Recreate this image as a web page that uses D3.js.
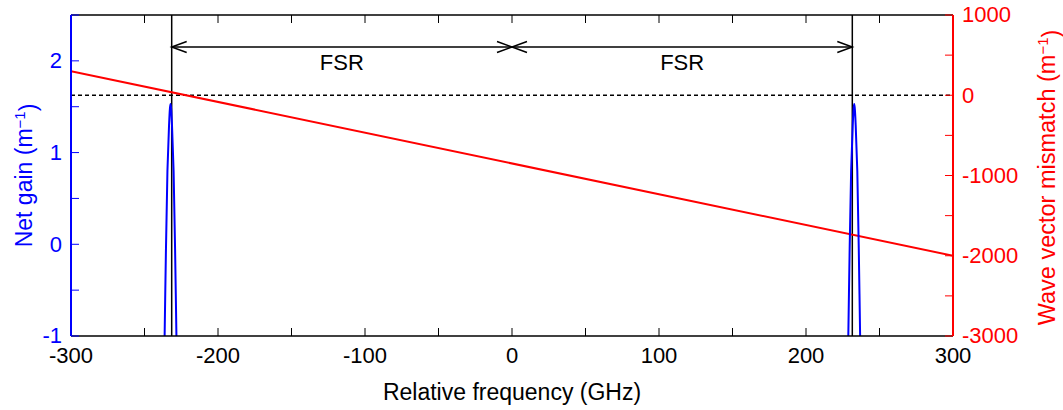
<!DOCTYPE html>
<html>
<head>
<meta charset="UTF-8">
<script src="https://d3js.org/d3.v7.min.js"></script>
<style>
  body { margin: 0; background: #fff; }
  text { font-family: "Liberation Sans", Arial, sans-serif; }
</style>
</head>
<body>
<script>
// Chart data
var freqTicks = [-300, -250, -200, -150, -100, -50, 0, 50, 100, 150, 200, 250, 300];
var freqLabels = [-300, -200, -100, 0, 100, 200, 300];
var gainTicks = [-1, -0.5, 0, 0.5, 1, 1.5, 2, 2.5];
var gainLabels = [-1, 0, 1, 2];
var mismatchTicks = [-3000, -2500, -2000, -1500, -1000, -500, 0, 500, 1000];
var mismatchLabels = [-3000, -2000, -1000, 0, 1000];

// net gain peaks (frequency GHz, gain m^-1)
var peakLeftFreq = [-236.5, -235.4, -234.4, -233.3, -232.7, -232.3, -231.9, -231.3, -230.2, -229.2, -228.1];
var peakLeftGain = [-1.2, -0.05, 0.8, 1.3, 1.48, 1.53, 1.48, 1.3, 0.8, -0.05, -1.2];
var peakRightFreq = [228.6, 229.7, 230.7, 231.8, 232.4, 232.8, 233.2, 233.8, 234.9, 235.9, 237.0];
var peakRightGain = [-1.2, -0.05, 0.8, 1.3, 1.48, 1.53, 1.48, 1.3, 0.8, -0.05, -1.2];

// wave vector mismatch (linear)
var mismatchFreq = [-300, 300];
var mismatchVal = [300, -2000];

// FSR markers
var fsrLines = [-231.5, 231.5];
var fsrArrows = [[-231.5, 0], [0, 231.5]];

var margin = {top: 15, right: 110, bottom: 74, left: 71},
    width = 1063 - margin.left - margin.right,
    height = 410 - margin.top - margin.bottom;

var x = d3.scaleLinear().domain([-300, 300]).range([0, width]);
var yL = d3.scaleLinear().domain([-1, 2.5]).range([height, 0]);
var yR = d3.scaleLinear().domain([-3000, 1000]).range([height, 0]);

var svg = d3.select("body").append("svg")
    .attr("width", 1063).attr("height", 410)
  .append("g")
    .attr("transform", "translate(" + margin.left + "," + margin.top + ")");

svg.append("clipPath").attr("id", "clip")
  .append("rect").attr("width", width).attr("height", height);

var plot = svg.append("g").attr("clip-path", "url(#clip)");

// dashed zero line of mismatch
plot.append("line")
    .attr("x1", 0).attr("x2", width)
    .attr("y1", yR(0)).attr("y2", yR(0))
    .attr("stroke", "#000").attr("stroke-width", 1.4)
    .attr("stroke-dasharray", "4,3");

// vertical FSR lines
fsrLines.forEach(function(f) {
  plot.append("line")
      .attr("x1", x(f)).attr("x2", x(f))
      .attr("y1", 0).attr("y2", height)
      .attr("stroke", "#000").attr("stroke-width", 1.5);
});

// red mismatch line
var redLine = d3.line()
    .x(function(d, i) { return x(mismatchFreq[i]); })
    .y(function(d) { return yR(d); });
plot.append("path")
    .attr("d", redLine(mismatchVal))
    .attr("fill", "none").attr("stroke", "#ff0000").attr("stroke-width", 2);

// blue gain peaks
function drawPeak(fs, gs) {
  var line = d3.line()
      .x(function(d, i) { return x(fs[i]); })
      .y(function(d) { return yL(d); })
      .curve(d3.curveCatmullRom);
  plot.append("path")
      .attr("d", line(gs))
      .attr("fill", "none").attr("stroke", "#0000ff").attr("stroke-width", 2);
}
drawPeak(peakLeftFreq, peakLeftGain);
drawPeak(peakRightFreq, peakRightGain);

// FSR arrows
var arrowY = 32, headL = 15, headW = 5.5;
fsrArrows.forEach(function(a) {
  var x1 = x(a[0]), x2 = x(a[1]);
  svg.append("line")
      .attr("x1", x1).attr("x2", x2).attr("y1", arrowY).attr("y2", arrowY)
      .attr("stroke", "#000").attr("stroke-width", 1.5);
  svg.append("path")
      .attr("d", "M" + (x1 + headL) + "," + (arrowY - headW) + "L" + x1 + "," + arrowY + "L" + (x1 + headL) + "," + (arrowY + headW))
      .attr("fill", "none").attr("stroke", "#000").attr("stroke-width", 1.5);
  svg.append("path")
      .attr("d", "M" + (x2 - headL) + "," + (arrowY - headW) + "L" + x2 + "," + arrowY + "L" + (x2 - headL) + "," + (arrowY + headW))
      .attr("fill", "none").attr("stroke", "#000").attr("stroke-width", 1.5);
  svg.append("text")
      .attr("x", (x1 + x2) / 2).attr("y", 55)
      .attr("text-anchor", "middle")
      .style("font-size", "22px")
      .text("FSR");
});

// spines
svg.append("line").attr("x1", 0).attr("x2", width).attr("y1", 0).attr("y2", 0)
    .attr("stroke", "#000").attr("stroke-width", 1.5);
svg.append("line").attr("x1", 0).attr("x2", width).attr("y1", height).attr("y2", height)
    .attr("stroke", "#000").attr("stroke-width", 1.5);

// tick marks (inward)
var tk = 8;
freqTicks.forEach(function(f) {
  svg.append("line").attr("x1", x(f)).attr("x2", x(f)).attr("y1", height).attr("y2", height - tk)
      .attr("stroke", "#000").attr("stroke-width", 1);
  svg.append("line").attr("x1", x(f)).attr("x2", x(f)).attr("y1", 0).attr("y2", tk)
      .attr("stroke", "#000").attr("stroke-width", 1);
});
gainTicks.forEach(function(g) {
  svg.append("line").attr("x1", 0).attr("x2", tk).attr("y1", yL(g)).attr("y2", yL(g))
      .attr("stroke", "#0000ff").attr("stroke-width", 1);
});
mismatchTicks.forEach(function(m) {
  svg.append("line").attr("x1", width).attr("x2", width - tk).attr("y1", yR(m)).attr("y2", yR(m))
      .attr("stroke", "#ff0000").attr("stroke-width", 1);
});

svg.append("line").attr("x1", 0).attr("x2", 0).attr("y1", 0).attr("y2", height)
    .attr("stroke", "#0000ff").attr("stroke-width", 2);
svg.append("line").attr("x1", width).attr("x2", width).attr("y1", 0).attr("y2", height)
    .attr("stroke", "#ff0000").attr("stroke-width", 2);

// tick labels
freqLabels.forEach(function(f) {
  svg.append("text").attr("x", x(f)).attr("y", height + 27)
      .attr("text-anchor", "middle").style("font-size", "22px")
      .text(String(f));
});
gainLabels.forEach(function(g) {
  svg.append("text").attr("x", -9).attr("y", yL(g)).attr("dy", "0.34em")
      .attr("text-anchor", "end").style("font-size", "22px").attr("fill", "#0000ff")
      .text(String(g));
});
mismatchLabels.forEach(function(m) {
  svg.append("text").attr("x", width + 9).attr("y", yR(m)).attr("dy", "0.34em")
      .attr("text-anchor", "start").style("font-size", "22px").attr("fill", "#ff0000")
      .text(String(m));
});

// axis titles
svg.append("text").attr("x", width / 2).attr("y", height + 64)
    .attr("text-anchor", "middle").style("font-size", "23px")
    .text("Relative frequency (GHz)");

var tl = svg.append("text")
    .attr("transform", "translate(" + (32 - margin.left) + "," + (height / 2) + ") rotate(-90)")
    .attr("text-anchor", "middle").style("font-size", "23px").attr("fill", "#0000ff");
tl.append("tspan").text("Net gain (m");
tl.append("tspan").attr("dy", "-0.45em").style("font-size", "15px").text("\u22121");
tl.append("tspan").attr("dy", "0.45em").text(")");

var tr = svg.append("text")
    .attr("transform", "translate(" + (width + 102) + "," + (height / 2 + 2) + ") rotate(-90)")
    .attr("text-anchor", "middle").style("font-size", "23.5px").attr("fill", "#ff0000");
tr.append("tspan").text("Wave vector mismatch (m");
tr.append("tspan").attr("dy", "-0.45em").style("font-size", "15px").text("\u22121");
tr.append("tspan").attr("dy", "0.45em").text(")");
</script>
</body>
</html>
